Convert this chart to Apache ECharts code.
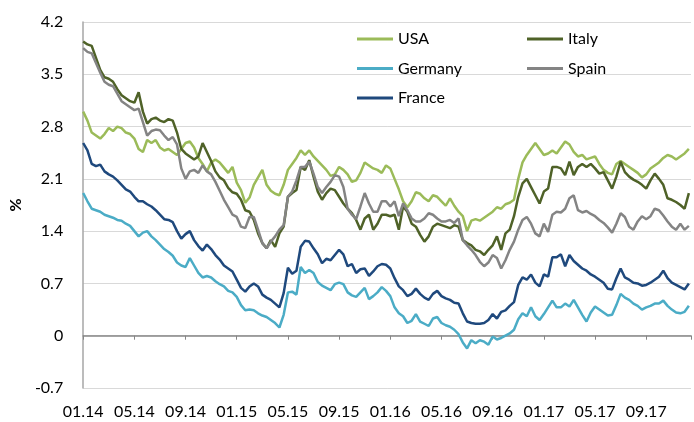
<!DOCTYPE html>
<html>
<head>
<meta charset="utf-8">
<title>10Y government bond yields</title>
<script src="https://cdn.jsdelivr.net/npm/echarts@6.0.0/dist/echarts.min.js"></script>
<style>
  html, body { margin: 0; padding: 0; background: #fff; }
  #chart { width: 694px; height: 422px; }
</style>
</head>
<body>
<div id="chart"></div>
<script>
// x positions: one reading every ~10 days, counted in months from 01.2014
const stepMonths = 1 / 3;
const xLabels = ['01.14', '05.14', '09.14', '01.15', '05.15', '09.15',
                 '01.16', '05.16', '09.16', '01.17', '05.17', '09.17'];

const usa = [3.00,2.88,2.72,2.68,2.64,2.70,2.78,2.74,2.80,2.78,
  2.72,2.70,2.64,2.50,2.46,2.62,2.58,2.62,2.52,2.48,
  2.50,2.46,2.42,2.50,2.58,2.60,2.52,2.38,2.30,2.20,
  2.32,2.36,2.32,2.25,2.18,2.26,2.05,1.95,1.78,1.85,
  2.02,2.12,2.22,2.02,1.94,1.90,1.88,2.02,2.22,2.30,
  2.38,2.48,2.42,2.48,2.40,2.34,2.28,2.22,2.14,2.16,
  2.26,2.22,2.16,2.06,2.08,2.18,2.32,2.28,2.24,2.22,
  2.18,2.28,2.24,2.10,1.96,1.80,1.72,1.80,1.92,1.90,
  1.84,1.80,1.88,1.86,1.80,1.74,1.84,1.74,1.66,1.60,
  1.40,1.54,1.56,1.54,1.58,1.62,1.66,1.72,1.70,1.76,
  1.78,1.82,2.10,2.32,2.42,2.50,2.58,2.50,2.42,2.44,
  2.48,2.44,2.52,2.60,2.56,2.46,2.40,2.42,2.36,2.38,
  2.40,2.30,2.22,2.18,2.16,2.30,2.34,2.30,2.26,2.22,
  2.18,2.12,2.16,2.24,2.28,2.32,2.38,2.42,2.40,2.36,
  2.40,2.44,2.50];

const italy = [3.94,3.90,3.88,3.72,3.56,3.46,3.44,3.40,3.30,3.22,
  3.18,3.14,3.12,3.26,3.00,2.84,2.90,2.92,2.88,2.86,
  2.90,2.88,2.72,2.50,2.44,2.40,2.36,2.40,2.58,2.46,
  2.34,2.20,2.12,2.08,1.98,1.92,1.90,1.82,1.68,1.66,
  1.55,1.37,1.24,1.17,1.28,1.19,1.37,1.46,1.86,1.91,
  1.95,2.26,2.22,2.35,2.13,1.93,1.82,1.91,1.97,1.95,
  1.86,1.77,1.70,1.64,1.55,1.42,1.57,1.62,1.42,1.50,
  1.62,1.62,1.60,1.62,1.42,1.73,1.66,1.50,1.46,1.35,
  1.26,1.33,1.46,1.50,1.48,1.46,1.44,1.48,1.46,1.28,
  1.24,1.21,1.15,1.13,1.08,1.15,1.21,1.33,1.15,1.37,
  1.42,1.60,1.86,2.04,2.10,1.99,1.88,1.77,1.93,1.97,
  2.26,2.26,2.24,2.15,2.33,2.15,2.26,2.30,2.26,2.30,
  2.24,2.17,2.19,2.08,1.97,2.13,2.33,2.19,2.13,2.09,
  2.06,2.02,1.97,2.08,2.17,2.10,2.02,1.84,1.82,1.79,
  1.75,1.70,1.91];

const germany = [1.91,1.80,1.70,1.68,1.66,1.62,1.60,1.58,1.55,1.54,
  1.50,1.47,1.40,1.33,1.38,1.40,1.33,1.28,1.22,1.16,
  1.12,1.07,0.98,0.94,0.92,1.04,0.94,0.84,0.78,0.80,
  0.78,0.73,0.69,0.66,0.60,0.58,0.52,0.41,0.34,0.35,
  0.34,0.30,0.27,0.25,0.21,0.17,0.11,0.28,0.58,0.59,
  0.55,0.92,0.84,0.88,0.84,0.72,0.67,0.64,0.61,0.69,
  0.71,0.69,0.58,0.54,0.52,0.58,0.64,0.49,0.53,0.58,
  0.65,0.60,0.53,0.38,0.30,0.26,0.17,0.20,0.29,0.19,
  0.16,0.13,0.23,0.25,0.17,0.14,0.12,0.08,0.02,-0.09,
  -0.17,-0.06,-0.10,-0.06,-0.08,-0.12,-0.01,-0.05,-0.03,0.00,
  0.03,0.08,0.22,0.30,0.26,0.38,0.26,0.21,0.29,0.38,
  0.47,0.38,0.38,0.43,0.39,0.48,0.38,0.28,0.19,0.31,
  0.39,0.35,0.31,0.27,0.28,0.41,0.56,0.51,0.48,0.43,
  0.40,0.35,0.38,0.40,0.43,0.43,0.47,0.40,0.35,0.31,
  0.30,0.32,0.40];

const spain = [3.85,3.80,3.78,3.65,3.52,3.40,3.36,3.34,3.24,3.14,
  3.10,3.06,3.02,3.04,2.86,2.68,2.74,2.76,2.75,2.68,
  2.62,2.66,2.56,2.24,2.10,2.20,2.22,2.18,2.28,2.20,
  2.16,2.06,1.94,1.82,1.72,1.62,1.59,1.46,1.44,1.59,
  1.59,1.42,1.24,1.17,1.26,1.33,1.42,1.48,1.86,1.93,
  2.08,2.26,2.26,2.33,2.17,1.99,1.91,1.99,2.06,2.15,
  2.13,1.99,1.70,1.62,1.56,1.73,1.91,1.77,1.66,1.66,
  1.80,1.80,1.73,1.80,1.60,1.77,1.68,1.57,1.53,1.53,
  1.57,1.64,1.62,1.57,1.53,1.53,1.55,1.51,1.57,1.28,
  1.21,1.15,1.08,0.99,0.93,0.98,1.08,1.04,0.90,1.01,
  1.15,1.26,1.42,1.55,1.59,1.50,1.37,1.33,1.50,1.39,
  1.62,1.66,1.65,1.70,1.84,1.88,1.68,1.65,1.67,1.63,
  1.60,1.55,1.51,1.45,1.38,1.50,1.64,1.59,1.46,1.42,
  1.53,1.60,1.56,1.60,1.70,1.68,1.61,1.53,1.46,1.42,
  1.50,1.42,1.47];

const france = [2.58,2.48,2.30,2.27,2.29,2.20,2.16,2.13,2.08,2.02,
  1.96,1.93,1.86,1.80,1.80,1.76,1.73,1.68,1.62,1.56,
  1.55,1.52,1.40,1.30,1.36,1.40,1.28,1.20,1.14,1.22,
  1.16,1.08,1.02,0.94,0.90,0.86,0.75,0.64,0.59,0.66,
  0.70,0.66,0.55,0.51,0.48,0.43,0.38,0.57,0.91,0.83,
  0.87,1.19,1.27,1.26,1.17,1.09,0.97,1.03,1.01,1.08,
  1.15,1.09,0.93,0.96,0.84,0.89,0.90,0.80,0.86,0.93,
  0.96,0.95,0.90,0.77,0.66,0.61,0.53,0.56,0.63,0.56,
  0.51,0.48,0.56,0.60,0.53,0.50,0.48,0.44,0.43,0.30,
  0.19,0.17,0.16,0.16,0.17,0.21,0.29,0.23,0.32,0.34,
  0.40,0.45,0.68,0.78,0.75,0.82,0.71,0.66,0.82,0.79,
  1.05,1.05,1.09,0.93,1.08,1.00,0.95,0.90,0.87,0.82,
  0.79,0.75,0.71,0.63,0.62,0.77,0.90,0.78,0.75,0.71,
  0.70,0.67,0.68,0.71,0.75,0.79,0.87,0.77,0.71,0.68,
  0.65,0.62,0.70];

const FONT = 'Lato';

function toPairs(values) {
    return values.map((v, i) => [i * stepMonths, v]);
}

function lineSeries(name, values, color) {
    return {
        name: name,
        type: 'line',
        xAxisIndex: 0,
        data: toPairs(values),
        showSymbol: false,
        symbol: 'none',
        lineStyle: { color: color, width: 2.5 },
        itemStyle: { color: color },
        emphasis: { disabled: true }
    };
}

const legendBase = {
    orient: 'vertical',
    top: 26,
    itemWidth: 36,
    itemHeight: 3,
    itemGap: 13.5,
    icon: 'rect',
    selectedMode: false,
    textStyle: { fontFamily: FONT, fontSize: 16, lineHeight: 16, color: '#000' }
};

// shared scale for both x axes (months since 01.2014)
const xScale = { type: 'value', min: 0, max: 47.5, interval: 4 };

const chart = echarts.init(document.getElementById('chart'));

chart.setOption({
    animation: false,
    backgroundColor: '#fff',
    grid: { left: 73, right: 0, top: 22, bottom: 34 },
    legend: [
        { ...legendBase, left: 352, data: ['USA', 'Germany', 'France'] },
        { ...legendBase, left: 522, data: ['Italy', 'Spain'] }
    ],
    xAxis: [
        {
            // labels along the bottom of the plot
            ...xScale,
            position: 'bottom',
            axisLine: { show: false, onZero: false },
            axisTick: { show: false },
            splitLine: { show: false },
            axisLabel: {
                margin: 16,
                fontFamily: FONT,
                fontSize: 16,
                color: '#000',
                formatter: v => (v % 4 === 0 ? xLabels[v / 4] || '' : '')
            }
        },
        {
            // axis line and ticks sitting on the zero line
            ...xScale,
            position: 'bottom',
            axisLine: { show: true, onZero: true, onZeroAxisIndex: 0,
                        lineStyle: { color: '#868686', width: 1.5 } },
            axisTick: { show: true, length: 4, lineStyle: { color: '#868686', width: 1 } },
            splitLine: { show: false },
            axisLabel: { show: false }
        }
    ],
    yAxis: {
        type: 'value',
        min: -0.7,
        max: 4.2,
        interval: 0.7,
        name: '%',
        nameLocation: 'middle',
        nameRotate: 90,
        nameGap: 45,
        nameTextStyle: { fontFamily: FONT, fontSize: 16, fontWeight: 'bold', color: '#000' },
        axisLine: { show: true, lineStyle: { color: '#a6a6a6', width: 1.5 } },
        axisTick: { show: false },
        splitLine: { lineStyle: { color: '#d9d9d9', width: 1 } },
        axisLabel: {
            margin: 20,
            fontFamily: FONT,
            fontSize: 16,
            color: '#000',
            formatter: v => String(Math.round(v * 10) / 10)
        }
    },
    series: [
        lineSeries('USA', usa, '#9bbb59'),
        lineSeries('Italy', italy, '#4f6228'),
        lineSeries('Germany', germany, '#4bacc6'),
        lineSeries('Spain', spain, '#848484'),
        lineSeries('France', france, '#1f497d')
    ]
});
</script>
</body>
</html>
